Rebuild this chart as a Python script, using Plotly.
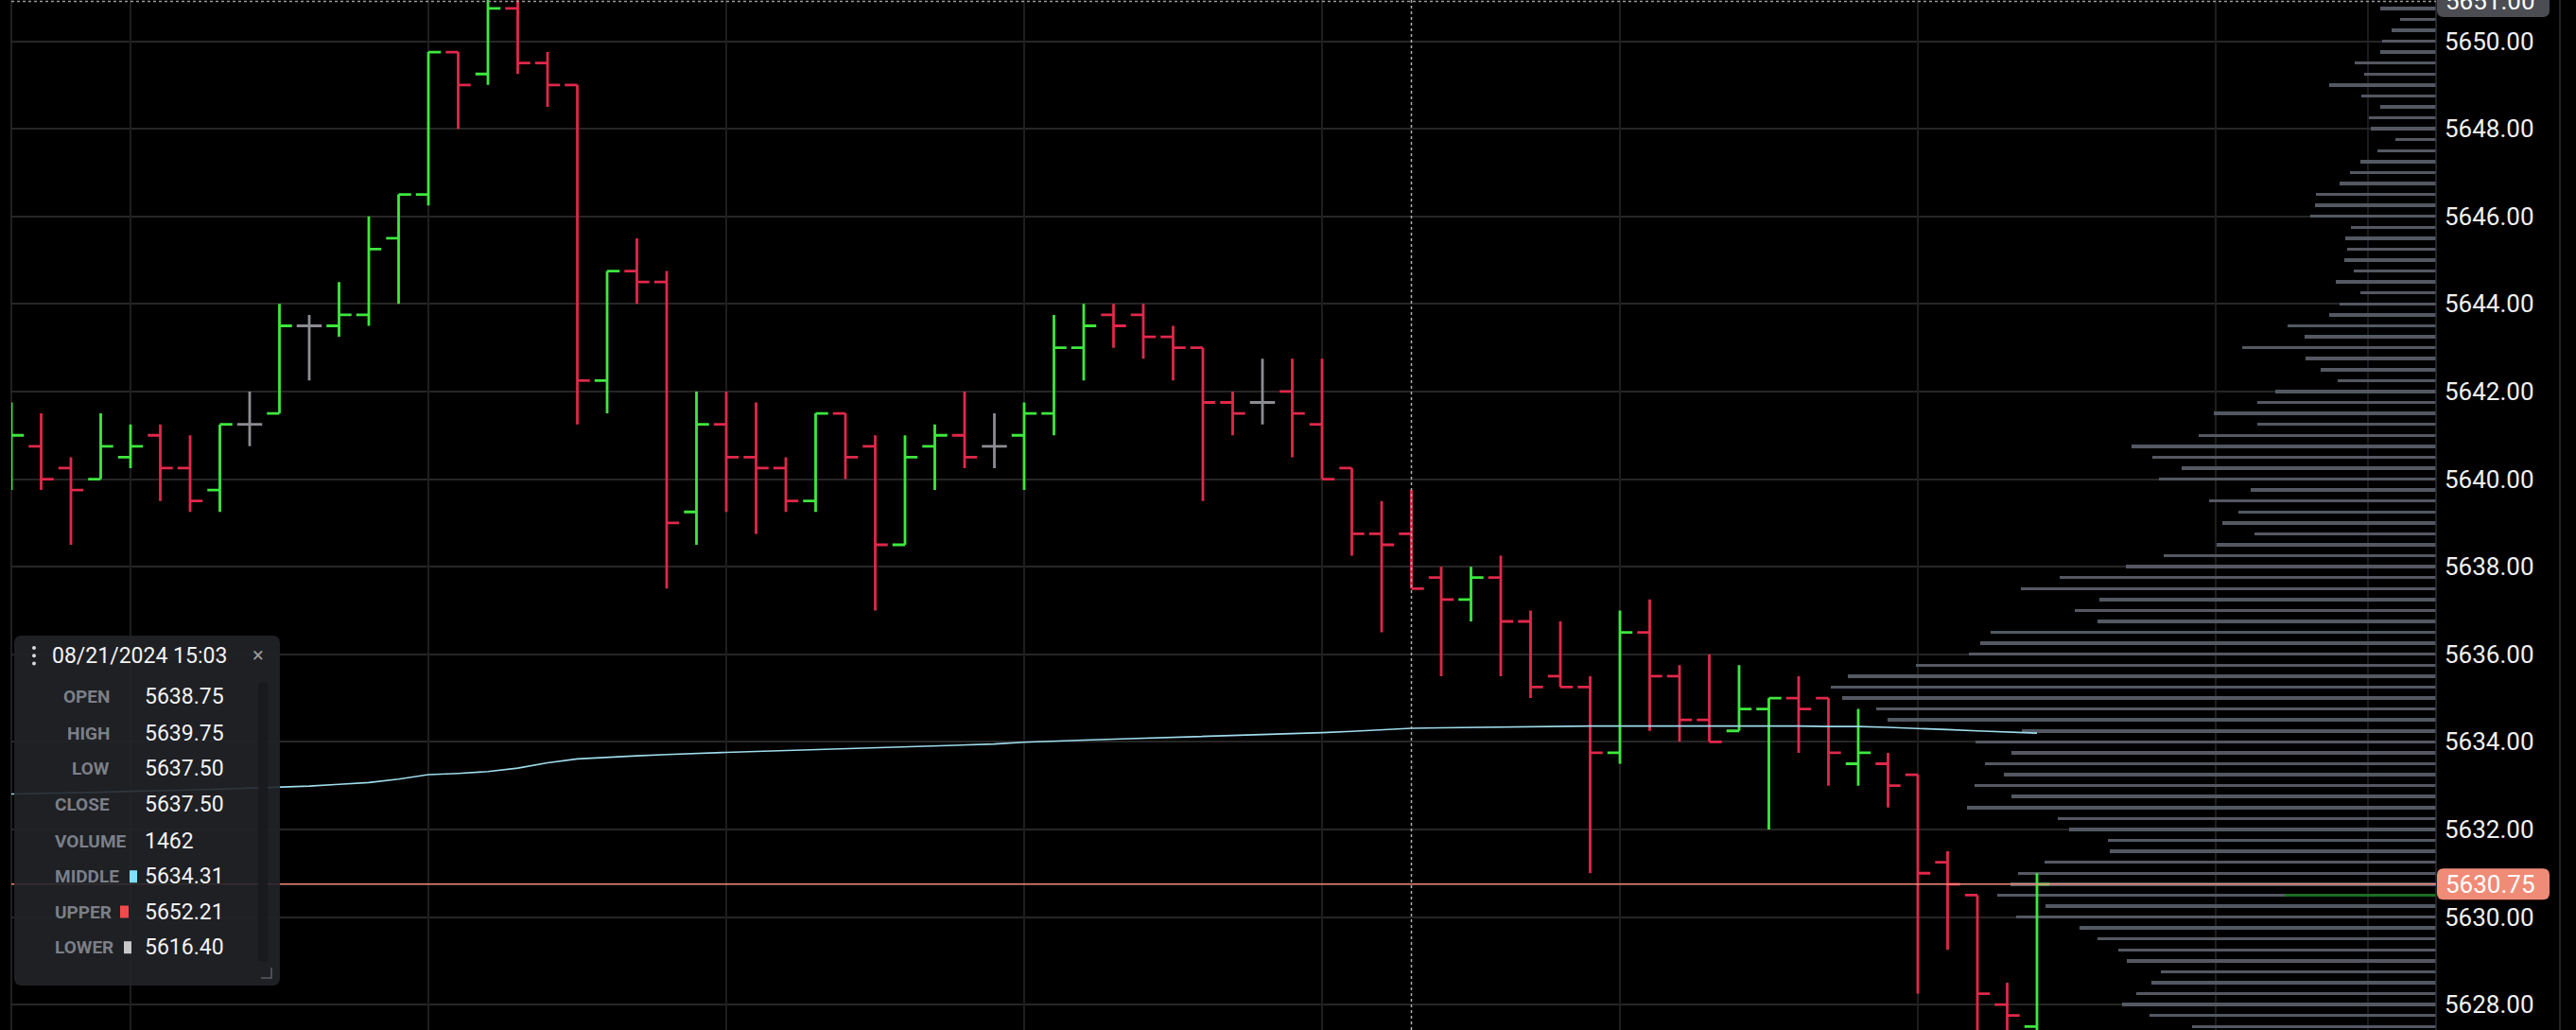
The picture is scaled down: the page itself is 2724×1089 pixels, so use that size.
import plotly.graph_objects as go
import pandas as pd

# ---------------- data ----------------
bar_times = pd.date_range("2024-08-21 14:16", periods=69, freq="min").strftime("%Y-%m-%d %H:%M").tolist()

open_ = [5640.25, 5640.75, 5640.25, 5640.00, 5640.50, 5641.00, 5640.25, 5639.75, 5641.25, 5641.50,
         5643.50, 5643.50, 5643.75, 5645.50, 5646.50, 5649.75, 5649.25, 5650.75, 5649.50, 5649.00,
         5642.25, 5644.75, 5644.50, 5639.25, 5641.25, 5640.50, 5640.25, 5639.50, 5641.50, 5640.75,
         5638.50, 5640.75, 5641.00, 5640.75, 5641.00, 5641.50, 5643.00, 5643.75, 5643.75, 5643.25,
         5643.00, 5641.75, 5641.75, 5642.00, 5641.25, 5640.25, 5638.75, 5638.75, 5637.75, 5637.25,
         5637.75, 5636.75, 5635.50, 5635.25, 5633.75, 5636.50, 5635.50, 5634.50, 5634.25, 5634.75,
         5635.00, 5635.00, 5633.50, 5633.50, 5633.25, 5631.25, 5630.50, 5628.00, 5627.50]
high = [5641.75, 5641.50, 5640.50, 5641.50, 5641.25, 5641.25, 5641.00, 5641.25, 5642.00, 5644.00,
        5643.75, 5644.50, 5646.00, 5646.50, 5649.75, 5649.75, 5651.25, 5651.25, 5649.75, 5649.00,
        5644.75, 5645.50, 5644.75, 5642.00, 5642.00, 5641.75, 5640.50, 5641.50, 5641.50, 5641.00,
        5641.00, 5641.25, 5642.00, 5641.50, 5641.75, 5643.75, 5644.00, 5644.00, 5644.00, 5643.50,
        5643.00, 5642.00, 5642.75, 5642.75, 5642.75, 5640.25, 5639.50, 5639.75, 5638.00, 5638.00,
        5638.25, 5637.00, 5636.75, 5635.50, 5637.00, 5637.25, 5635.75, 5636.00, 5635.75, 5635.00,
        5635.50, 5635.00, 5634.75, 5633.75, 5633.25, 5631.50, 5630.50, 5628.50, 5631.00]
low = [5639.75, 5639.75, 5638.50, 5640.00, 5640.25, 5639.50, 5639.25, 5639.25, 5640.75, 5641.50,
       5642.25, 5643.25, 5643.50, 5644.00, 5646.25, 5648.00, 5649.00, 5649.25, 5648.50, 5641.25,
       5641.50, 5644.00, 5637.50, 5638.50, 5639.25, 5638.75, 5639.25, 5639.25, 5640.00, 5637.00,
       5638.50, 5639.75, 5640.25, 5640.25, 5639.75, 5641.00, 5642.25, 5643.00, 5642.75, 5642.25,
       5639.50, 5641.00, 5641.25, 5640.50, 5640.00, 5638.25, 5636.50, 5637.50, 5635.50, 5636.75,
       5635.50, 5635.00, 5635.25, 5631.00, 5633.50, 5634.25, 5634.00, 5634.00, 5634.25, 5632.00,
       5633.75, 5633.00, 5633.00, 5632.50, 5628.25, 5629.25, 5627.25, 5627.25, 5627.25]
close = [5641.00, 5640.00, 5639.75, 5640.75, 5640.75, 5640.25, 5639.50, 5641.25, 5641.25, 5643.50,
         5643.50, 5643.75, 5645.25, 5646.50, 5649.75, 5649.00, 5650.75, 5649.50, 5649.00, 5642.25,
         5644.75, 5644.50, 5639.00, 5641.25, 5640.50, 5640.25, 5639.50, 5641.50, 5640.50, 5638.50,
         5640.50, 5641.00, 5640.50, 5640.75, 5641.50, 5643.00, 5643.50, 5643.50, 5643.25, 5643.00,
         5641.75, 5641.50, 5641.75, 5641.50, 5640.00, 5638.75, 5638.50, 5637.50, 5637.25, 5637.75,
         5636.75, 5635.25, 5635.25, 5633.75, 5636.50, 5635.50, 5634.50, 5634.00, 5634.75, 5635.00,
         5634.75, 5633.75, 5633.75, 5633.00, 5631.00, 5630.75, 5628.25, 5627.75, 5630.75]

middle = [5632.81, 5632.82, 5632.84, 5632.85, 5632.87, 5632.88, 5632.90, 5632.92, 5632.94, 5632.96,
          5632.99, 5633.03, 5633.07, 5633.15, 5633.25, 5633.28, 5633.32, 5633.40, 5633.52, 5633.61,
          5633.65, 5633.68, 5633.71, 5633.74, 5633.76, 5633.78, 5633.80, 5633.82, 5633.85, 5633.87,
          5633.89, 5633.91, 5633.93, 5633.95, 5633.99, 5634.02, 5634.04, 5634.06, 5634.08, 5634.10,
          5634.12, 5634.14, 5634.16, 5634.18, 5634.21, 5634.24, 5634.27, 5634.31, 5634.32, 5634.33,
          5634.34, 5634.35, 5634.36, 5634.36, 5634.36, 5634.36, 5634.37, 5634.37, 5634.37, 5634.36,
          5634.36, 5634.35, 5634.35, 5634.33, 5634.31, 5634.28, 5634.25, 5634.22, 5634.20]

vp_price = [5651.00, 5650.75, 5650.50, 5650.25, 5650.00,
            5649.75, 5649.50, 5649.25, 5649.00, 5648.75, 5648.50, 5648.25, 5648.00,
            5647.75, 5647.50, 5647.25, 5647.00, 5646.75, 5646.50, 5646.25, 5646.00,
            5645.75, 5645.50, 5645.25, 5645.00, 5644.75, 5644.50, 5644.25, 5644.00,
            5643.75, 5643.50, 5643.25, 5643.00, 5642.75, 5642.50, 5642.25, 5642.00,
            5641.75, 5641.50, 5641.25, 5641.00, 5640.75, 5640.50, 5640.25, 5640.00,
            5639.75, 5639.50, 5639.25, 5639.00, 5638.75, 5638.50, 5638.25, 5638.00,
            5637.75, 5637.50, 5637.25, 5637.00, 5636.75, 5636.50, 5636.25, 5636.00,
            5635.75, 5635.50, 5635.25, 5635.00, 5634.75, 5634.50, 5634.25, 5634.00,
            5633.75, 5633.50, 5633.25, 5633.00, 5632.75, 5632.50, 5632.25, 5632.00,
            5631.75, 5631.50, 5631.25, 5631.00, 5630.75, 5630.50, 5630.25, 5630.00,
            5629.75, 5629.50, 5629.25, 5629.00, 5628.75, 5628.50, 5628.25, 5628.00,
            5627.75, 5627.50]
vp_volume = [44, 59, 38, 47, 57,
             59, 86, 76, 113, 79, 59, 71, 69,
             43, 62, 80, 91, 102, 127, 128, 133,
             90, 96, 94, 97, 87, 106, 80, 102,
             113, 157, 139, 205, 138, 122, 104, 170,
             189, 235, 189, 251, 322, 300, 269, 293,
             196, 240, 209, 226, 192, 232, 288, 328,
             398, 439, 356, 382, 358, 471, 482, 494,
             550, 622, 640, 628, 592, 580, 438, 487,
             449, 477, 457, 488, 449, 496, 400, 388,
             347, 345, 414, 442, 450, 464, 413, 444,
             377, 358, 336, 327, 291, 301, 317, 332,
             303, 258]
vp_hl_price = [5630.50]
vp_hl_volume = [160]

last_price = 5630.75
crosshair_idx = 47
crosshair_price = 5650.91
crosshair_label = "5651.00"
bar_volume_at_cursor = 1462
upper_band = 5652.21
lower_band = 5616.40

# ---------------- geometry / styles ----------------
W, H = 2724, 1089
L_PX, R_PX = 12, 2576
PLOT_W = R_PX - L_PX
BAR_PX = 31.5
Y_TOP, Y_BOT = 5650.94, 5627.42

GREEN, RED, GRAY = "#3ee83e", "#e0284a", "#8c8c94"
SALMON = "#f08b77"
FONT = "Roboto"


def fx(px):
    return (px - L_PX) / PLOT_W


def fy(py):
    return 1 - py / H


def py_of(price):
    return (Y_TOP - price) / (Y_TOP - Y_BOT) * H


def rrect(x0, y0, x1, y1, r):
    pts = [("M", x0 + r, y0), ("L", x1 - r, y0), ("Q", x1, y0, x1, y0 + r), ("L", x1, y1 - r),
           ("Q", x1, y1, x1 - r, y1), ("L", x0 + r, y1), ("Q", x0, y1, x0, y1 - r),
           ("L", x0, y0 + r), ("Q", x0, y0, x0 + r, y0)]
    s = ""
    for p in pts:
        cmd, vals = p[0], p[1:]
        coords = []
        for k in range(0, len(vals), 2):
            coords.append(f"{fx(vals[k]):.6f},{fy(vals[k + 1]):.6f}")
        s += cmd + " " + " ".join(coords) + " "
    return s + "Z"


fig = go.Figure()

# volume profile (drawn on the hidden, reversed x axis so it grows from the right edge)
fig.add_trace(go.Bar(x=vp_volume, y=vp_price, orientation="h", width=0.075,
                     marker=dict(color="#535862", line_width=0), xaxis="x", yaxis="y",
                     hoverinfo="skip", showlegend=False))
fig.add_trace(go.Bar(x=vp_hl_volume, y=vp_hl_price, orientation="h", width=0.075,
                     marker=dict(color="#1b6e23", line_width=0), xaxis="x", yaxis="y",
                     hoverinfo="skip", showlegend=False))

# middle band
fig.add_trace(go.Scatter(x=bar_times, y=middle, mode="lines", line=dict(color="#9fdcec", width=1.6),
                         xaxis="x2", yaxis="y", hoverinfo="skip", showlegend=False))

# OHLC bars split by direction
groups = {
    GREEN: [i for i in range(len(bar_times)) if close[i] > open_[i]],
    RED: [i for i in range(len(bar_times)) if close[i] < open_[i]],
    GRAY: [i for i in range(len(bar_times)) if close[i] == open_[i]],
}
for col, idx in groups.items():
    fig.add_trace(go.Ohlc(
        x=[bar_times[i] for i in idx], open=[open_[i] for i in idx], high=[high[i] for i in idx],
        low=[low[i] for i in idx], close=[close[i] for i in idx],
        increasing=dict(line=dict(color=col, width=2.8)), decreasing=dict(line=dict(color=col, width=2.8)),
        tickwidth=0.42, xaxis="x2", yaxis="y", hoverinfo="skip", showlegend=False))

t_start = pd.Timestamp(bar_times[0])
t_end = t_start + pd.Timedelta(minutes=PLOT_W / BAR_PX)

shapes = []
# structural lines
shapes.append(dict(type="line", xref="paper", yref="paper", x0=0, x1=0, y0=0, y1=1,
                   line=dict(color="#2b2b2b", width=1.5), layer="below"))
shapes.append(dict(type="line", xref="paper", yref="paper", x0=fx(2504), x1=fx(2504), y0=0, y1=1,
                   line=dict(color="#222428", width=1.5), layer="below"))
for xp in (R_PX, 2707):
    shapes.append(dict(type="line", xref="paper", yref="paper", x0=fx(xp), x1=fx(xp), y0=0, y1=1,
                       line=dict(color="#2c2f36", width=1.5), layer="above"))
# last price line
shapes.append(dict(type="line", xref="paper", yref="y", x0=0, x1=1, y0=last_price, y1=last_price,
                   line=dict(color=SALMON, width=1.6), layer="above"))
# crosshair
shapes.append(dict(type="line", xref="x2", yref="paper", x0=bar_times[crosshair_idx], x1=bar_times[crosshair_idx],
                   y0=0, y1=1, line=dict(color="#b0b0b0", width=1.5, dash="dot"), layer="above"))
shapes.append(dict(type="line", xref="paper", yref="y", x0=0, x1=1, y0=crosshair_price, y1=crosshair_price,
                   line=dict(color="#9a9a9a", width=1.5, dash="dot"), layer="above"))
# price labels boxes
lp_y = py_of(last_price)
shapes.append(dict(type="path", xref="paper", yref="paper", path=rrect(2577, lp_y - 16.5, 2696, lp_y + 16.5, 7),
                   fillcolor=SALMON, line=dict(width=0), layer="above"))
cp_y = py_of(crosshair_price)
shapes.append(dict(type="path", xref="paper", yref="paper", path=rrect(2577, cp_y - 16.5, 2696, cp_y + 16.5, 7),
                   fillcolor="#4b4d53", line=dict(width=0), layer="above"))
# info box
shapes.append(dict(type="path", xref="paper", yref="paper", path=rrect(15, 672, 296, 1042, 8),
                   fillcolor="rgba(33,35,40,0.9)", line=dict(width=0), layer="above"))
shapes.append(dict(type="path", xref="paper", yref="paper", path=rrect(273, 721, 283, 1017, 4),
                   fillcolor="rgba(24,26,30,0.9)", line=dict(width=0), layer="above"))
shapes.append(dict(type="path", xref="paper", yref="paper",
                   path=f"M {fx(287):.6f},{fy(1023):.6f} L {fx(287):.6f},{fy(1034):.6f} L {fx(276):.6f},{fy(1034):.6f}",
                   line=dict(color="#4c4e54", width=2), layer="above"))
for dy in (685, 693.3, 701.6):
    shapes.append(dict(type="circle", xref="paper", yref="paper", x0=fx(34), x1=fx(38), y0=fy(dy - 2), y1=fy(dy + 2),
                       fillcolor="#d8d8d8", line=dict(width=0), layer="above"))
# legend squares
for (x0, x1, yc, colr) in [(137, 145, 926.7, "#7fe0fb"), (127, 136, 964, "#f24a4a"), (131, 139, 1001.7, "#c8c8c8")]:
    shapes.append(dict(type="rect", xref="paper", yref="paper", x0=fx(x0), x1=fx(x1), y0=fy(yc - 6.5), y1=fy(yc + 6.5),
                       fillcolor=colr, line=dict(width=0), layer="above"))

ann = []


def txt(x, y, s, size, color, anchor="left"):
    ann.append(dict(xref="paper", yref="paper", x=fx(x), y=fy(y), text=s, showarrow=False,
                    xanchor=anchor, yanchor="middle", font=dict(family=FONT, size=size, color=color)))


txt(2584, lp_y, f"{last_price:.2f}", 26, "#ffffff")
txt(2584, cp_y, crosshair_label, 26, "#ffffff")

ts = pd.Timestamp(bar_times[crosshair_idx])
txt(53, 693, ts.strftime("%m/%d/%Y %H:%M"), 23, "#f2f2f2")
txt(273, 692, "×", 22, "#9a9a9a", "center")

info_labels = ["OPEN", "HIGH", "LOW", "CLOSE", "VOLUME", "MIDDLE", "UPPER", "LOWER"]
info_values = [f"{open_[crosshair_idx]:.2f}", f"{high[crosshair_idx]:.2f}", f"{low[crosshair_idx]:.2f}",
               f"{close[crosshair_idx]:.2f}", f"{bar_volume_at_cursor}", f"{middle[crosshair_idx]:.2f}",
               f"{upper_band:.2f}", f"{lower_band:.2f}"]
info_y = [736.7, 775, 812.7, 850.7, 889.3, 926.7, 964, 1001.7]
for k, (lab, val, yy) in enumerate(zip(info_labels, info_values, info_y)):
    if k < 4:
        txt(118, yy, f"<b>{lab}</b>", 19, "#7c7f87", "right")
    else:
        txt(56, yy, f"<b>{lab}</b>", 19, "#7c7f87", "left")
    txt(151, yy, val, 23, "#f2f2f2")

fig.update_layout(
    width=W, height=H,
    margin=dict(l=L_PX, r=W - R_PX, t=0, b=0, pad=0),
    paper_bgcolor="#000000", plot_bgcolor="#000000",
    barmode="overlay", bargap=0, showlegend=False,
    xaxis=dict(range=[PLOT_W, 0], visible=False, showgrid=False, zeroline=False, fixedrange=True,
               rangeslider=dict(visible=False)),
    xaxis2=dict(overlaying="x", anchor="y", type="date", range=[t_start, t_end],
                showgrid=True, gridcolor="#1e1e1e", gridwidth=1.5, dtick=600000, tick0="2024-08-21 14:20",
                showticklabels=False, ticks="", zeroline=False, showline=False, rangeslider=dict(visible=False)),
    yaxis=dict(side="right", range=[Y_BOT, Y_TOP], dtick=2, tick0=5628, tickformat=".2f",
               showgrid=True, gridcolor="#262626", gridwidth=1.5, zeroline=False, showline=False,
               ticks="", ticklabelstandoff=8, tickfont=dict(family=FONT, size=26, color="#f0f0f0")),
    shapes=shapes, annotations=ann,
)

fig.write_html("out.html", config={"displayModeBar": False},
               post_script="document.body.style.margin='0px';document.body.style.overflow='hidden';")
